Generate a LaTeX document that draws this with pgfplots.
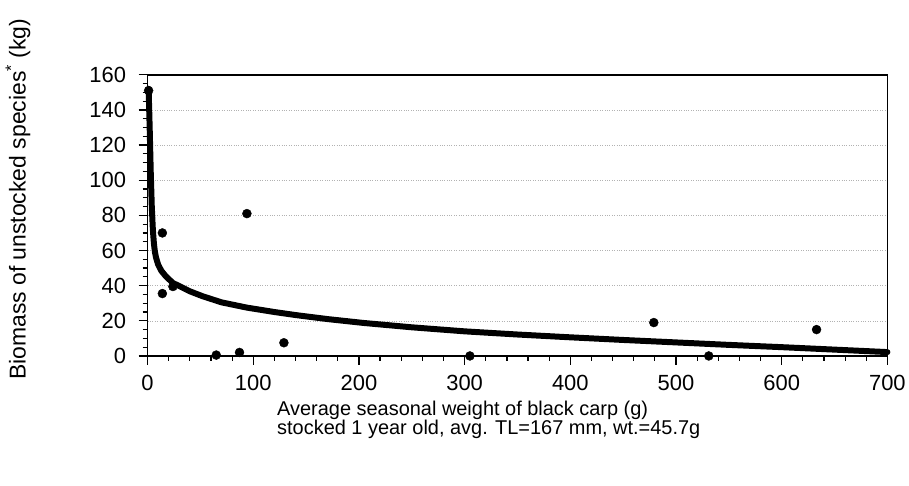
\documentclass[border=0pt]{standalone}
\usepackage{pgfplots}
\pgfplotsset{compat=1.18}
\usepackage{fontspec}
\setmainfont{Liberation Sans}

\begin{document}
\begin{tikzpicture}
\begin{axis}[
  scale only axis,
  width=742pt, height=282pt,
  xmin=0, xmax=700, ymin=0, ymax=160,
  xtick={0,100,...,700}, ytick={0,20,...,160},
  minor x tick num=4, minor y tick num=3,
  xtick pos=left, ytick pos=left,
  tick align=outside,
  major tick length=9pt, minor tick length=5pt,
  xtick style={black, line width=1.2pt},
  ytick style={black, line width=1.2pt},
  axis line style={black, line width=1.6pt},
  ymajorgrids,
  major grid style={gray!60, dotted, line width=0.6pt},
  /pgf/number format/assume math mode=true,
  tick label style={font=\fontsize{22}{24}\selectfont},
  yticklabel style={xshift=-9pt},
  xticklabel style={yshift=-7pt},
  clip=false,
  xlabel={Average seasonal weight of black carp (g)\\stocked 1 year old, avg. TL=167 mm, wt.=45.7g},
  xlabel style={at={(axis description cs:0.175,-0.16)}, anchor=north west,
    align=left, inner sep=0pt, font=\fontsize{20}{19}\selectfont},
  ylabel={Biomass of unstocked species\textsuperscript{*} (kg)},
  ylabel style={at={(axis description cs:-0.175,0.557)}, anchor=center,
    font=\fontsize{23}{24}\selectfont},
]
% fitted trend
\addplot[black, line width=6pt, line join=round, line cap=round] coordinates {
  (1,152) (2,130) (3,105) (4,85) (5,72) (6,64) (7,59) (8,56) (10,52)
  (13,48.5) (17,45.5) (24,41.5) (30,39.8) (40,36.8) (52,34) (70,30.5)
  (94,27.5) (120,25) (141,23.2) (170,21) (204,18.8) (250,16.3) (300,14)
  (350,12.2) (400,10.6) (450,9.1) (500,7.7) (550,6.3) (600,5) (650,3.6)
  (700,2.2)
};
% observed ponds
\addplot[only marks, mark=*, mark size=4.5pt, black] coordinates {
  (1,151) (14,70) (94,81) (14,35.5) (24,39.5) (65,0.5) (87,2) (129,7.5)
  (305,0) (531,0) (479,19) (633,15)
};
\end{axis}
\path (current axis.south west) ++(-148pt,-130pt) rectangle
      ([shift={(19pt,75pt)}]current axis.north east);
\end{tikzpicture}
\end{document}
